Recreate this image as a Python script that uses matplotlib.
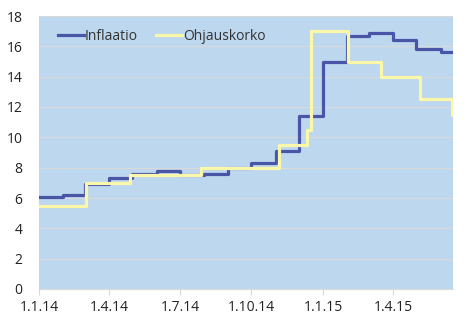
import matplotlib
matplotlib.use("Agg")
import matplotlib.pyplot as plt
import pandas as pd

# Inflaatio, monthly values (start of month)
infl_dates = ["2014-01-01", "2014-02-01", "2014-03-01", "2014-04-01", "2014-05-01",
              "2014-06-01", "2014-07-01", "2014-08-01", "2014-09-01", "2014-10-01",
              "2014-11-01", "2014-12-01", "2015-01-01", "2015-02-01", "2015-03-01",
              "2015-04-01", "2015-05-01", "2015-06-01", "2015-06-17"]
infl_values = [6.05, 6.2, 6.9, 7.3, 7.6, 7.8, 7.5, 7.6, 8.0, 8.3, 9.1, 11.4,
               15.0, 16.7, 16.9, 16.4, 15.8, 15.6, 15.6]

# Ohjauskorko, change dates
rate_dates = ["2014-01-01", "2014-03-03", "2014-04-28", "2014-07-28", "2014-11-05",
              "2014-12-12", "2014-12-16", "2015-02-02", "2015-03-16", "2015-05-05",
              "2015-06-16", "2015-06-17"]
rate_values = [5.5, 7.0, 7.5, 8.0, 9.5, 10.5, 17.0, 15.0, 14.0, 12.5, 11.5, 11.5]

tick_dates = ["2014-01-01", "2014-04-01", "2014-07-01", "2014-10-01", "2015-01-01", "2015-04-01"]
tick_labels = ["1.1.14", "1.4.14", "1.7.14", "1.10.14", "1.1.15", "1.4.15"]

plt.rcParams['font.family'] = ['Open Sans', 'DejaVu Sans']

fig = plt.figure(figsize=(4.68, 3.21), dpi=100)
ax = fig.add_axes([39 / 468, 1 - 289 / 321, 414 / 468, 273 / 321])
ax.set_facecolor("#BDD7EE")

ax.plot(pd.to_datetime(infl_dates), infl_values, drawstyle="steps-post",
        color="#4A55A8", lw=2.3, label="Inflaatio", zorder=3)
ax.plot(pd.to_datetime(rate_dates), rate_values, drawstyle="steps-post",
        color="#FAF8A8", lw=2.3, label="Ohjauskorko", zorder=3)

ax.set_ylim(0, 18)
ax.set_yticks(range(0, 19, 2))
ax.set_xlim(pd.Timestamp("2014-01-01"), pd.Timestamp("2015-06-17"))
ax.set_xticks(pd.to_datetime(tick_dates))
ax.set_xticklabels(tick_labels)

ax.grid(axis="y", color="#D9D9D9", lw=0.8)
ax.set_axisbelow(True)
for s in ["left", "right", "top"]:
    ax.spines[s].set_visible(False)
ax.spines["bottom"].set_color("#D9D9D9")
ax.tick_params(axis="y", length=0, labelsize=10, pad=12, colors="#222222")
ax.tick_params(axis="x", length=4, color="#D9D9D9", labelsize=10, pad=4, labelcolor="#222222")

ax.legend(loc="upper left", ncol=2, frameon=False, fontsize=10,
          handlelength=1.9, handletextpad=0.05, columnspacing=1.3,
          bbox_to_anchor=(0.015, 1.0), labelcolor="#333333")

fig.savefig("out.png", dpi=100)
